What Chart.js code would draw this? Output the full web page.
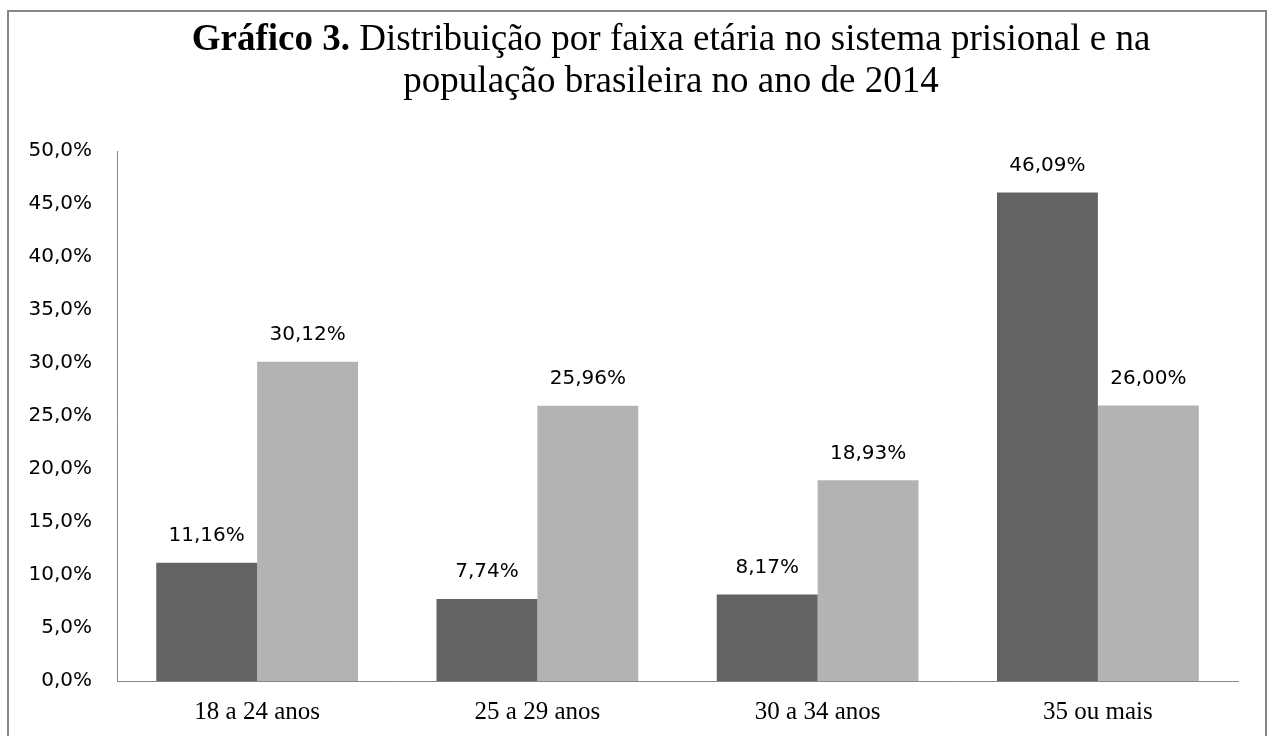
<!DOCTYPE html>
<html>
<head>
<meta charset="utf-8">
<script src="https://cdn.jsdelivr.net/npm/chart.js@4.4.1/dist/chart.umd.min.js"></script>
<style>
  html, body { margin: 0; padding: 0; background: #ffffff; }
  #wrap { width: 1272px; height: 736px; position: relative; }
</style>
</head>
<body>
<div id="wrap"><canvas id="c" width="1272" height="736"></canvas></div>
<script>
const categories = ['18 a 24 anos', '25 a 29 anos', '30 a 34 anos', '35 ou mais'];
const sistemaPrisional = [11.16, 7.74, 8.17, 46.09];
const populacaoBrasileira = [30.12, 25.96, 18.93, 26.00];
const titleBold = 'Gráfico 3.';
const titleLine1 = ' Distribuição por faixa etária no sistema prisional e na';
const titleLine2 = 'população brasileira no ano de 2014';

const fmtPct = (v, d) => v.toFixed(d).replace('.', ',') + '%';

const framePlugin = {
  id: 'frame',
  beforeDraw(chart) {
    const ctx = chart.ctx;
    ctx.save();
    ctx.fillStyle = '#ffffff';
    ctx.fillRect(0, 0, chart.width, chart.height);
    ctx.strokeStyle = '#868686';
    ctx.lineWidth = 2;
    ctx.strokeRect(8, 11, 1258, 760);
    ctx.restore();
  }
};

const titlePlugin = {
  id: 'mixedTitle',
  afterDraw(chart) {
    const ctx = chart.ctx;
    ctx.save();
    ctx.fillStyle = '#000000';
    ctx.textBaseline = 'alphabetic';
    const boldFont = 'bold 37px "Liberation Serif", "Times New Roman", serif';
    const regFont = '37px "Liberation Serif", "Times New Roman", serif';
    ctx.font = boldFont;
    const wB = ctx.measureText(titleBold).width;
    ctx.font = regFont;
    const wR = ctx.measureText(titleLine1).width;
    const cx = 671;
    let x = cx - (wB + wR) / 2;
    ctx.textAlign = 'left';
    ctx.font = boldFont;
    ctx.fillText(titleBold, x, 50);
    ctx.font = regFont;
    ctx.fillText(titleLine1, x + wB, 50);
    ctx.textAlign = 'center';
    ctx.fillText(titleLine2, cx, 92);
    ctx.restore();
  }
};

const labelPlugin = {
  id: 'barLabels',
  afterDatasetsDraw(chart) {
    const ctx = chart.ctx;
    ctx.save();
    ctx.fillStyle = '#000000';
    ctx.font = '20px "DejaVu Sans", sans-serif';
    ctx.textAlign = 'center';
    ctx.textBaseline = 'middle';
    chart.data.datasets.forEach((ds, di) => {
      chart.getDatasetMeta(di).data.forEach((bar, i) => {
        ctx.fillText(fmtPct(ds.data[i], 2), bar.x, bar.y - 27);
      });
    });
    ctx.restore();
  }
};

new Chart(document.getElementById('c'), {
  type: 'bar',
  data: {
    labels: categories,
    datasets: [
      { label: 'Sistema prisional', data: sistemaPrisional, backgroundColor: '#636363', borderWidth: 0 },
      { label: 'População brasileira', data: populacaoBrasileira, backgroundColor: '#b3b3b3', borderWidth: 0 }
    ]
  },
  options: {
    responsive: false,
    animation: false,
    devicePixelRatio: 1,
    layout: { padding: { top: 151, right: 34, bottom: 0, left: 0 } },
    datasets: { bar: { categoryPercentage: 0.72, barPercentage: 1.0 } },
    plugins: {
      legend: { display: false },
      title: { display: false },
      tooltip: { enabled: false }
    },
    scales: {
      x: {
        grid: { display: false, drawTicks: false },
        border: { display: true, color: '#868686', width: 1 },
        ticks: {
          color: '#000000',
          padding: 16,
          font: { family: '"Liberation Serif", "Times New Roman", serif', size: 25 }
        },
        afterFit(scale) { scale.height = 55; }
      },
      y: {
        min: 0,
        max: 50,
        grid: { display: false, drawTicks: false },
        border: { display: true, color: '#868686', width: 1 },
        ticks: {
          stepSize: 5,
          color: '#000000',
          padding: 25,
          font: { family: '"DejaVu Sans", sans-serif', size: 20 },
          callback: (v) => fmtPct(v, 1)
        },
        afterFit(scale) { scale.width = 117; }
      }
    }
  },
  plugins: [framePlugin, titlePlugin, labelPlugin]
});
</script>
</body>
</html>
